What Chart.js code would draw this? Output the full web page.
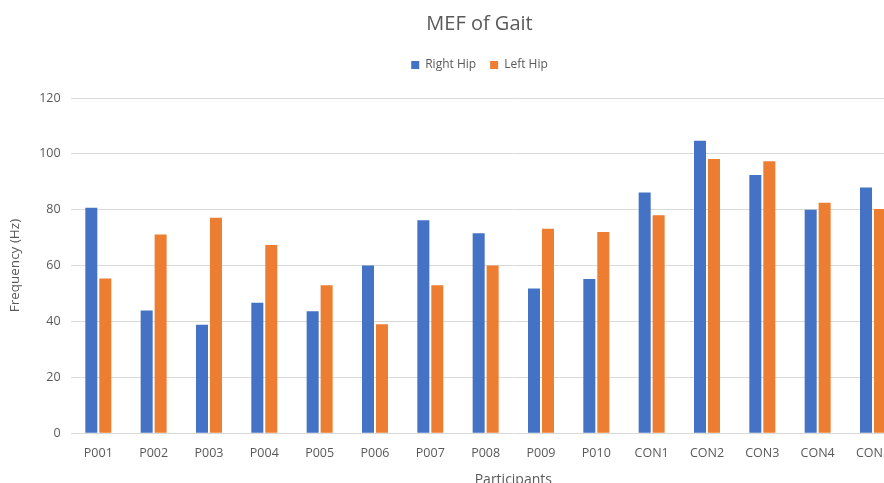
<!DOCTYPE html>
<html>
<head>
<meta charset="utf-8">
<script src="https://cdn.jsdelivr.net/npm/chart.js@4.4.1/dist/chart.umd.min.js"></script>
<style>
  html, body { margin: 0; padding: 0; background: #fff; overflow: hidden; }
  #wrap { width: 962px; height: 492px; }
</style>
</head>
<body>
<div id="wrap"><canvas id="gait" width="962" height="492"></canvas></div>
<script>
// participants (last one sits outside the visible window, no value read)
const participants = ['P001', 'P002', 'P003', 'P004', 'P005', 'P006', 'P007', 'P008', 'P009', 'P010',
    'CON1', 'CON2', 'CON3', 'CON4', 'CON5', 'CON6'];
const rightHip = [80.7, 43.9, 38.8, 46.7, 43.7, 60.0, 76.2, 71.6, 51.8, 55.2, 86.2, 104.7, 92.4, 80.0, 88.0, null];
const leftHip = [55.4, 71.1, 77.1, 67.4, 53.0, 39.0, 53.0, 60.0, 73.2, 72.0, 78.0, 98.2, 97.4, 82.5, 80.3, null];
const yTicks = [0, 20, 40, 60, 80, 100, 120];

const txt = '#595959';
const fontFam = '"Open Sans", "Noto Sans", sans-serif';

// push the plot area down a bit below the legend
const legendGap = {
    id: 'legendGap',
    beforeInit(chart) {
        const fit = chart.legend.fit;
        chart.legend.fit = function () {
            fit.bind(chart.legend)();
            this.height += 17;
        };
    }
};

let ctx = document.getElementById('gait').getContext('2d');
new Chart(ctx, {
    type: 'bar',
    data: {
        labels: participants,
        datasets: [{
            label: 'Right Hip',
            data: rightHip,
            backgroundColor: '#4472C4',
            categoryPercentage: 0.505,
            barPercentage: 0.86
        }, {
            label: 'Left Hip',
            data: leftHip,
            backgroundColor: '#ED7D31',
            categoryPercentage: 0.505,
            barPercentage: 0.86
        }]
    },
    plugins: [legendGap],
    options: {
        responsive: false,
        animation: false,
        layout: { padding: { left: 3, right: 6, top: 4, bottom: 0 } },
        plugins: {
            title: {
                display: true,
                text: 'MEF of Gait',
                color: txt,
                font: { family: fontFam, size: 20, weight: 'normal' },
                padding: { top: 8, bottom: 9 }
            },
            legend: {
                position: 'top',
                labels: {
                    color: txt,
                    font: { family: fontFam, size: 12 },
                    boxWidth: 8,
                    boxHeight: 8,
                    padding: 14
                }
            },
            tooltip: { enabled: false }
        },
        scales: {
            x: {
                grid: { display: false },
                border: { display: false },
                ticks: { color: txt, font: { family: fontFam, size: 12.5 }, padding: 5, maxRotation: 0, autoSkip: false },
                title: { display: true, text: 'Participants', color: txt, font: { family: fontFam, size: 14 }, padding: { top: 5 } }
            },
            y: {
                min: 0,
                max: 120,
                afterBuildTicks: axis => { axis.ticks = yTicks.map(v => ({ value: v })); },
                grid: { color: '#d9d9d9', drawTicks: false },
                border: { display: false },
                ticks: { color: txt, font: { family: fontFam, size: 12.5 }, padding: 10 },
                title: { display: true, text: 'Frequency (Hz)', color: txt, font: { family: fontFam, size: 13.5 }, padding: { bottom: 6 } }
            }
        }
    }
});
</script>
</body>
</html>
